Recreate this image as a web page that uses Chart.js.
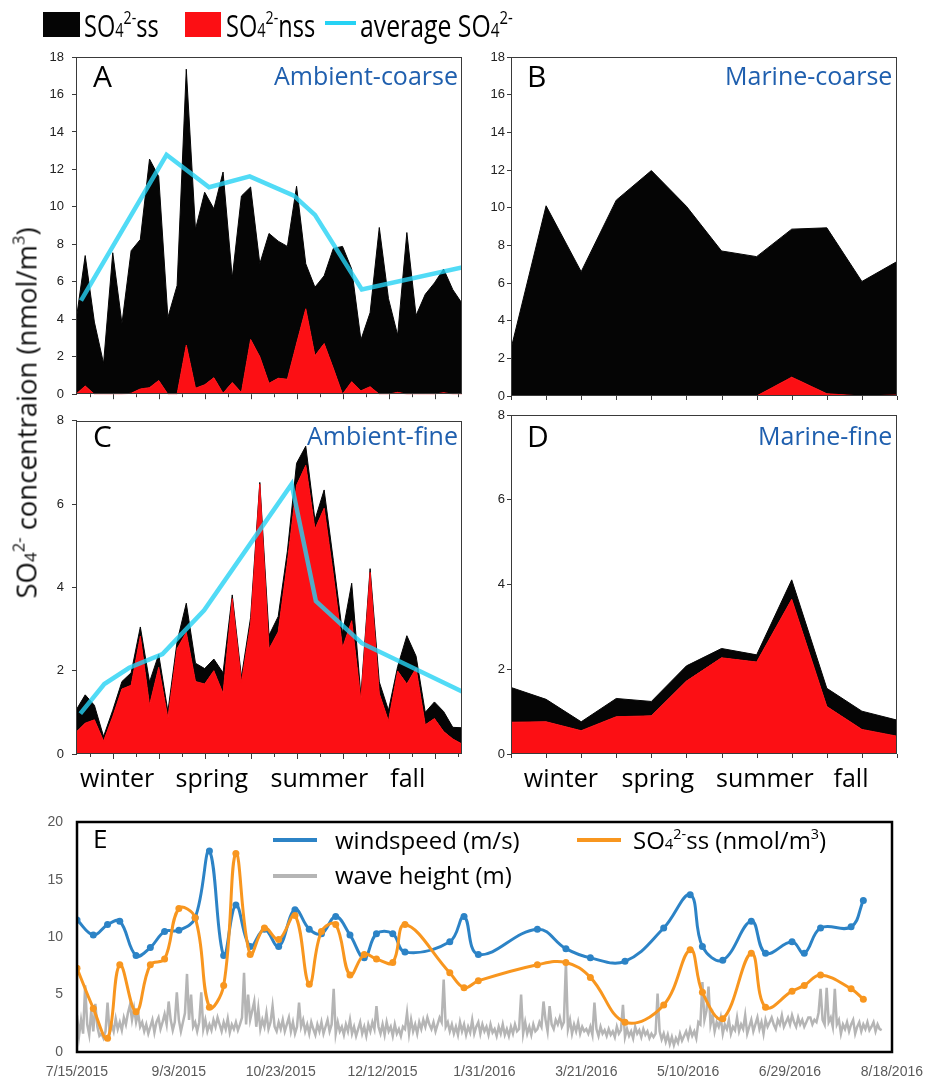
<!DOCTYPE html>
<html><head><meta charset="utf-8">
<script src="https://cdn.jsdelivr.net/npm/chart.js@4.4.1/dist/chart.umd.min.js"></script>
<style>
html,body{margin:0;padding:0;background:#fff;}
body{position:relative;width:935px;height:1080px;overflow:hidden;}
canvas{position:absolute;}
.t{position:absolute;white-space:nowrap;line-height:1.2;}
.s4{font-size:0.62em;}
.sp{font-size:0.6em;position:relative;top:-0.72em;}
.box{position:absolute;}
</style></head><body>
<script>
// ---------------- DATA ----------------
// Panel A: Ambient-coarse (43 samples)
const ambCoarseNss = [0,0.44,0,0,0,0,0.05,0.28,0.35,0.73,0,0,2.62,0.32,0.5,0.88,0.05,0.62,0.09,2.92,2.0,0.58,0.85,0.8,2.7,4.56,2.05,2.7,1.38,0,0.67,0.18,0.4,0,0,0.1,0,0,0,0,0.08,0,0];
const ambCoarseSs  = [3.9,6.96,3.85,1.64,7.55,3.77,7.61,7.98,12.2,10.89,4.1,5.8,14.73,8.48,10.28,9.02,11.81,5.58,10.49,8.14,4.96,8.0,7.32,7.09,8.4,2.4,3.66,3.62,6.4,7.89,6.01,2.72,3.95,8.9,5.1,3.05,8.63,4.2,5.33,5.94,6.6,5.58,4.85];
const ambCoarseAvgX = [0.54,9.85,14.48,18.9,23.7,26.0,31.1,42];
const ambCoarseAvg  = [5.0,12.78,11.05,11.63,10.6,9.57,5.59,6.77];
// Panel B: Marine-coarse (12 samples)
const marCoarseNss = [0,0,0,0,0,0,0,0,1.0,0.12,0,0.05];
const marCoarseSs  = [2.5,10.1,6.6,10.4,11.97,10.07,7.7,7.4,7.86,8.81,6.08,7.09];
// Panel C: Ambient-fine (43 samples)
const ambFineNss = [0.52,0.74,0.82,0.31,0.9,1.56,1.65,2.83,1.17,2.08,0.86,2.53,2.92,1.74,1.68,2.0,1.45,3.73,1.72,3.12,6.48,2.52,2.93,4.6,6.45,6.93,5.4,5.9,4.3,2.55,3.2,1.3,4.36,1.45,0.79,1.99,1.68,2.06,0.7,0.85,0.54,0.36,0.24];
const ambFineSs  = [0.53,0.68,0.35,0.11,0.15,0.18,0.3,0.22,0.56,0.31,0.16,0.17,0.7,0.44,0.37,0.28,0.5,0.09,0.13,0.16,0.04,0.33,0.37,0.27,0.53,0.46,0.22,0.44,0.35,0.35,0.9,0.1,0.09,0.28,0.26,0.11,1.16,0.29,0.3,0.4,0.48,0.28,0.39];
const ambFineAvgX = [0.47,3.08,5.79,9.41,13.94,23.46,26.1,31.1,42];
const ambFineAvg  = [0.97,1.68,2.07,2.4,3.45,6.48,3.67,2.66,1.5];
// Panel D: Marine-fine (12 samples)
const marFineNss = [0.75,0.76,0.55,0.88,0.9,1.72,2.27,2.17,3.65,1.12,0.58,0.42];
const marFineSs  = [0.82,0.53,0.21,0.43,0.34,0.36,0.22,0.17,0.46,0.43,0.43,0.38];
// axis ticks / labels
const fineTicks = [1.55,4.05,6.55,9.05,11.55,14.05,16.55,19.05,21.55,24.05,26.55,29.05,31.55,34.05,36.55,39.05,41.55];
const marineTicks = [0,1,2,3,4,5,6,7,8,9,10,11];
const seasons = ['winter','spring','summer','fall'];
const seasonPosAmb = [4.46,14.8,26.5,36.1];
const seasonPosMar = [1.42,4.19,7.24,9.69];
// Panel E (days since 7/15/2015)
const dateLabels = ['7/15/2015','9/3/2015','10/23/2015','12/12/2015','1/31/2016','3/21/2016','5/10/2016','6/29/2016','8/18/2016'];
const sampleDays = [0,8,15,21,29,36,43,50,58,65,72,78,85,92,99,107,114,120,127,134,141,147,155,161,183,190,197,226,240,252,269,288,301,307,317,331,338,351,357,365,380,386];
const windspeed = [11.5,10.2,11.1,11.4,8.4,9.1,10.5,10.6,11.7,17.5,8.4,12.8,9.2,10.7,9.2,12.4,10.7,10.3,11.8,10.2,8.2,10.3,10.3,8.7,9.6,11.8,8.5,10.7,9.0,8.2,7.9,10.8,13.7,9.2,8.0,11.4,8.6,9.6,8.6,10.8,10.9,13.2];
const so4ss = [7.3,3.8,1.2,7.6,3.5,7.6,8.1,12.5,11.7,3.9,5.8,17.3,8.5,10.8,9.8,11.9,5.9,10.5,11.1,6.7,8.5,8.1,7.8,11.1,6.9,5.6,6.2,7.6,7.8,6.5,2.6,4.1,8.9,5.2,2.9,8.6,3.9,5.3,5.8,6.7,5.5,4.6];
const waveHeight = [
3.2,1.4,2.8,1.6,5.8,2.4,1.5,3.6,1.8,4.2, 2.2,1.4,1.6,1.2,1.8,4.3,1.6,2.4,1.8,2.9,
2.0,2.6,1.9,3.0,2.4,3.4,4.1,2.8,3.8,2.6, 3.4,2.2,2.6,1.8,2.4,1.6,2.2,2.8,1.7,2.6,
3.0,2.0,2.6,3.3,2.4,4.4,2.8,1.9,2.6,5.2, 2.8,1.8,2.6,3.4,6.8,2.8,5.0,2.2,2.6,1.8,
2.6,5.2,2.0,2.8,1.8,2.4,1.9,2.8,2.2,3.0, 2.4,1.8,2.6,2.0,2.9,1.7,2.4,2.0,2.6,1.9,
2.4,3.0,6.9,2.4,5.0,2.8,3.6,4.4,2.2,3.8, 2.0,2.8,2.2,3.4,2.0,2.6,4.0,2.2,1.8,2.6,
2.0,2.8,1.8,2.4,3.0,1.8,2.6,1.6,2.2,4.3, 2.2,2.8,1.8,2.4,1.6,2.6,2.0,1.5,2.4,1.8,
2.6,1.6,2.2,2.8,1.8,2.4,5.5,1.6,2.6,1.8, 2.2,1.5,2.4,1.8,2.8,1.6,2.2,1.4,2.0,2.6,
1.6,2.2,1.4,2.4,1.8,2.6,2.0,4.0,2.2,1.6, 2.4,1.5,2.6,1.8,2.2,1.4,2.4,1.6,2.0,1.4,
2.2,2.0,3.4,1.6,2.8,1.8,2.4,1.6,2.6,2.0, 2.8,2.2,3.0,2.4,2.0,2.6,1.8,2.4,3.0,2.6,
6.3,2.2,2.6,1.8,2.4,1.6,2.2,1.5,2.6,1.8, 2.4,1.5,2.2,1.7,2.8,1.6,2.2,2.6,1.6,2.4,
1.8,2.2,1.5,2.4,1.7,2.0,1.4,2.2,1.6,2.4, 1.5,2.0,1.4,2.2,1.6,2.4,1.8,2.0,5.0,1.6,
2.6,1.6,2.2,1.5,2.4,1.8,2.0,2.6,2.2,4.4, 2.8,1.8,4.0,2.4,2.0,2.8,2.4,3.0,2.2,2.6,
7.8,2.0,2.8,1.6,2.4,1.8,2.6,1.6,2.2,1.8, 2.0,1.6,2.2,1.5,4.3,2.0,1.4,2.2,1.6,1.9,
1.4,2.0,1.5,1.8,1.3,2.2,1.6,1.9,4.1,1.3, 2.0,1.4,1.8,1.2,2.2,1.6,1.9,1.3,2.0,1.5,
1.8,1.2,1.6,1.3,1.6,5.1,1.8,1.1,1.6,0.9, 1.5,0.7,1.3,0.6,1.2,0.8,1.6,1.0,1.4,1.8,
1.2,2.0,1.4,1.8,1.2,2.6,2.4,6.1,2.8,3.6, 5.7,2.4,3.2,1.8,2.6,2.2,3.0,1.6,2.4,2.0,
2.8,1.6,2.2,1.9,3.0,1.8,2.4,2.0,3.2,1.6, 2.2,2.8,1.8,2.4,3.0,2.0,2.6,1.6,2.8,2.2,
2.6,3.0,2.4,2.0,2.8,2.4,3.2,2.2,2.6,3.0, 2.4,3.2,2.6,2.2,3.0,2.4,2.8,2.2,2.6,3.0,
3.0,2.4,2.8,2.6,3.4,5.5,2.8,2.4,5.6,2.6, 3.0,2.2,5.5,2.4,2.8,1.6,2.4,2.0,2.6,1.8,
2.4,2.8,1.6,2.2,2.6,1.8,2.4,2.0,2.6,1.9, 2.2,2.6,1.8,2.4,2.0,1.9];

// ---------------- STYLE ----------------
const RED='#fc0f14', BLACK='#050505', CYAN='rgba(38,210,244,0.8)';
const BLUE='#2c83c6', ORANGE='#f8961f', GRAY='#b5b5b5', TITLE='#1f5fae';
const TICKFONT={family:'"Liberation Sans", Arial, sans-serif', size:13};
const SANS='"Open Sans", "Noto Sans", sans-serif';

function mkCanvas(left, top, w, h){
  const c=document.createElement('canvas');
  c.width=w; c.height=h;
  c.style.cssText=`left:${left}px;top:${top}px;width:${w}px;height:${h}px`;
  document.body.appendChild(c);
  return c;
}
function addText(html, x, base, size, opt={}){
  const d=document.createElement('div');
  d.className='t';
  d.style.fontSize=size+'px';
  d.style.fontFamily=opt.font||SANS;
  d.style.color=opt.color||'#000';
  d.innerHTML=html;
  const m=document.createElement('span');
  m.style.cssText='display:inline-block;width:0;height:0;vertical-align:baseline;';
  d.appendChild(m);
  document.body.appendChild(d);
  const b=m.offsetTop, w=d.offsetWidth;
  if(opt.sx){ d.style.transform=`scaleX(${opt.sx})`;
    d.style.transformOrigin=(opt.align==='right'?'right':opt.align==='center'?'center':'left')+' top'; }
  let left=x; if(opt.align==='right') left=x-w; else if(opt.align==='center') left=x-w/2;
  d.style.left=left+'px'; d.style.top=(base-b)+'px';
  return d;
}
function box(left,top,w,h,color){
  const d=document.createElement('div'); d.className='box';
  d.style.cssText+=`left:${left}px;top:${top}px;width:${w}px;height:${h}px;background:${color}`;
  document.body.appendChild(d);
}
const SO4 = 'SO<span class="s4">4</span><span class="sp">2-</span>';

const framePlugin = {
  id:'frame',
  afterDraw(chart, args, o){
    const a=chart.chartArea, ctx=chart.ctx;
    ctx.save(); ctx.strokeStyle=o.color||'#444'; ctx.lineWidth=o.width||1;
    const e=o.expand||0;
    ctx.strokeRect(Math.round(a.left)+0.5-e, Math.round(a.top)+0.5-e, Math.round(a.right-a.left)-1+2*e, Math.round(a.bottom-a.top)-1+2*e);
    if(o.ticks){
      const sx=chart.scales.x;
      ctx.beginPath();
      o.ticks.forEach((v,i)=>{
        const px=Math.round(sx.getPixelForValue(v))+0.5;
        const len = o.longOdd ? (i%2===1?5:3) : 4;
        ctx.moveTo(px, a.bottom); ctx.lineTo(px, a.bottom+len);
      });
      ctx.stroke();
    }
    ctx.restore();
  }
};

function areaPanel(cv, p){
  const ds=[
    {label:'nss', data:p.nss.map((v,i)=>({x:i,y:v})), fill:'origin', backgroundColor:RED, borderColor:RED,
      borderWidth:1, pointRadius:0, tension:0, order:1, stack:'s'},
    {label:'ss', data:p.ss.map((v,i)=>({x:i,y:v})), fill:'-1', backgroundColor:BLACK, borderColor:BLACK,
      borderWidth:1, pointRadius:0, tension:0, order:2, stack:'s'}
  ];
  if(p.avgX) ds.push({label:'avg', data:p.avgX.map((x,i)=>({x, y:p.avg[i]})), borderColor:CYAN,
      borderWidth:4.5, pointRadius:0, tension:0, fill:false, order:0, stack:'a', borderJoinStyle:'miter'});
  return new Chart(cv, {
    type:'line',
    data:{datasets:ds},
    options:{
      responsive:false, animation:false, events:[],
      layout:{padding:{top:p.padTop, right:p.padRight, left:0, bottom:0}},
      plugins:{legend:{display:false}, tooltip:{enabled:false},
        frame:{color:'#3a3a3a', width:1, ticks:p.ticks, longOdd:p.longOdd}},
      scales:{
        x:{type:'linear', min:0, max:p.xMax, ticks:{display:false}, grid:{display:false}, border:{display:false},
           afterFit:s=>{s.height=p.xH;}},
        y:{min:0, max:p.yMax, stacked:true, beginAtZero:true,
           ticks:{stepSize:2, font:TICKFONT, color:'#222', padding:p.labPad},
           grid:{drawOnChartArea:false, drawTicks:true, tickLength:4, color:'#3a3a3a', lineWidth:1},
           border:{display:true, color:'#3a3a3a'},
           afterFit:s=>{s.width=p.yW;}}
      }
    },
    plugins:[framePlugin]
  });
}

// ---- Panels A-D ----
const cA=mkCanvas(0,40,475,370);
const chA=areaPanel(cA,{nss:ambCoarseNss, ss:ambCoarseSs, avgX:ambCoarseAvgX, avg:ambCoarseAvg, xMax:42, yMax:18,
  padTop:17, padRight:13, xH:14, yW:76, labPad:8, ticks:fineTicks, longOdd:true});
const cB=mkCanvas(470,40,440,370);
const chB=areaPanel(cB,{nss:marCoarseNss, ss:marCoarseSs, xMax:11, yMax:18,
  padTop:17, padRight:13, xH:14, yW:41, labPad:2, ticks:marineTicks, longOdd:false});
const cC=mkCanvas(0,405,475,400);
const chC=areaPanel(cC,{nss:ambFineNss, ss:ambFineSs, avgX:ambFineAvgX, avg:ambFineAvg, xMax:42, yMax:8,
  padTop:10, padRight:13, xH:51, yW:76, labPad:8, ticks:fineTicks, longOdd:true});
const cD=mkCanvas(470,405,440,400);
const chD=areaPanel(cD,{nss:marFineNss, ss:marFineSs, xMax:11, yMax:8,
  padTop:10, padRight:13, xH:51, yW:41, labPad:2, ticks:marineTicks, longOdd:false});

// ---- Panel E ----
const cE=mkCanvas(0,800,935,280);
const chE=new Chart(cE,{
  type:'line',
  data:{datasets:[
    {label:'wave height (m)', data:waveHeight.map((v,i)=>({x:i,y:v})), borderColor:GRAY, borderWidth:2.5,
      pointRadius:0, tension:0, fill:false, order:3},
    {label:'windspeed (m/s)', data:sampleDays.map((d,i)=>({x:d,y:windspeed[i]})), borderColor:BLUE,
      backgroundColor:BLUE, borderWidth:3, pointRadius:3.5, pointBorderWidth:0, tension:0.4, fill:false, order:2},
    {label:'SO4ss', data:sampleDays.map((d,i)=>({x:d,y:so4ss[i]})), borderColor:ORANGE,
      backgroundColor:ORANGE, borderWidth:3, pointRadius:3.5, pointBorderWidth:0, tension:0.4, fill:false, order:1}
  ]},
  options:{
    responsive:false, animation:false, events:[],
    layout:{padding:{top:15, right:43, left:0, bottom:0}},
    plugins:{legend:{display:false}, tooltip:{enabled:false}, frame:{color:'#000', width:2.5, expand:0.5}},
    scales:{
      x:{type:'linear', min:0, max:400,
         afterBuildTicks:s=>{ s.ticks=dateLabels.map((_,i)=>({value:i*50})); },
         ticks:{callback:(v)=>dateLabels[Math.round(v/50)], font:{family:'"Liberation Sans", Arial, sans-serif', size:14},
                color:'#595959', padding:12, maxRotation:0, autoSkip:false},
         grid:{display:false, drawTicks:false}, border:{display:false},
         afterFit:s=>{s.height=28;}},
      y:{min:0, max:20, ticks:{stepSize:5, font:{family:'"Liberation Sans", Arial, sans-serif', size:14}, color:'#595959', padding:14},
         grid:{display:false, drawTicks:false}, border:{display:false},
         afterFit:s=>{s.width=77;}}
    }
  },
  plugins:[framePlugin]
});

// ---- Texts ----
// top legend
box(43,12,37,25,BLACK);
addText(SO4+'ss', 84, 37, 31, {sx:0.76});
box(185,12,36,25,RED);
addText(SO4+'nss', 226, 37, 31, {sx:0.76});
box(325,21,31,4,'rgb(38,210,244)');
addText('average '+SO4, 360, 37, 31, {sx:0.8});

// panel labels
addText('A', 93, 87, 30);
addText('Ambient-coarse', 458, 85, 25, {color:TITLE, align:'right'});
addText('B', 527, 87, 30);
addText('Marine-coarse', 892, 85, 25, {color:TITLE, align:'right'});
addText('C', 93, 447, 30);
addText('Ambient-fine', 458, 445, 25, {color:TITLE, align:'right'});
addText('D', 527, 447, 30);
addText('Marine-fine', 892, 445, 25, {color:TITLE, align:'right'});

// season labels (placed through the chart x scales)
seasons.forEach((s,i)=>{
  addText(s, 0 + chC.scales.x.getPixelForValue(seasonPosAmb[i]), 787, 25, {align:'center'});
  addText(s, 470 + chD.scales.x.getPixelForValue(seasonPosMar[i]), 787, 25, {align:'center'});
});

// y axis title
(function(){
  const d=document.createElement('div');
  d.className='t';
  d.style.cssText+=`font-family:${SANS};font-size:27.5px;color:#111;left:26px;top:413px;transform:translate(-50%,-50%) rotate(-90deg);`;
  d.innerHTML=SO4+' concentraion (nmol/m<span class="sp">3</span>)';
  document.body.appendChild(d);
})();

// panel E legend
addText('E', 93, 848, 26);
box(273,838,44,4,BLUE);
addText('windspeed (m/s)', 335, 849, 24);
box(273,874,44,4,GRAY);
addText('wave height (m)', 335, 884, 24);
box(577,838,44,4,ORANGE);
addText(SO4+'ss (nmol/m<span class="sp">3</span>)', 633, 849, 24);
</script>
</body></html>
